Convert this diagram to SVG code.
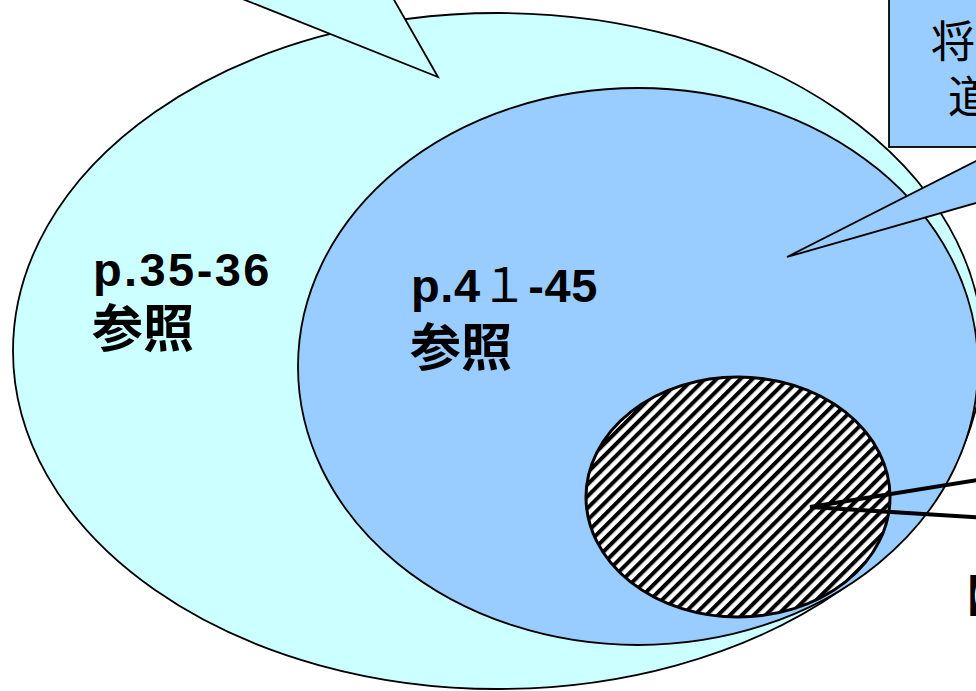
<svg xmlns="http://www.w3.org/2000/svg" width="976" height="691" viewBox="0 0 976 691">
<style>
.cy{fill:#CCFFFF;stroke:#000;stroke-width:1.8}
.bl{fill:#99CCFF;stroke:#000;stroke-width:1.8}
.lbl{font-family:"Liberation Sans","Noto Sans CJK JP",sans-serif;font-weight:bold;fill:#000}
.cjk{font-family:"Noto Sans CJK JP",sans-serif;fill:#000}
</style>
<defs>
<pattern id="hatch" patternUnits="userSpaceOnUse" width="8.4" height="8.4" patternTransform="rotate(45)">
<rect width="8.4" height="8.4" fill="#fff"/>
<rect width="4" height="8.4" fill="#000"/>
</pattern>
</defs>
<rect width="976" height="691" fill="#fff"/>
<g id="outer">
<ellipse class="cy" cx="498" cy="351" rx="485" ry="338"/>
</g>
<g id="callout-left">
<polygon class="cy" points="240,-2 438,77 393,-2"/>
</g>
<g id="middle">
<ellipse class="bl" cx="638" cy="366.5" rx="340" ry="278.5"/>
</g>
<g id="callout-right">
<rect class="bl" x="889" y="-5" width="100" height="152"/>
<polygon class="bl" points="990,154 787,257 990,199"/>
<text class="cjk" x="931" y="58" font-size="44">将</text>
<text class="cjk" x="948" y="113" font-size="44">道</text>
</g>
<g id="inner">
<ellipse cx="738" cy="497" rx="152" ry="120" fill="url(#hatch)" stroke="#000" stroke-width="3"/>
</g>
<g id="connectors">
<polyline points="990,478 810,507 990,518" fill="none" stroke="#000" stroke-width="4"/>
</g>
<g id="label-outer">
<text class="lbl" x="93" y="286" font-size="47" letter-spacing="2.4">p.35-36</text>
<text class="lbl" x="92" y="347" font-size="51">参照</text>
</g>
<g id="label-middle">
<text class="lbl" x="411" y="302" font-size="47" letter-spacing="0.6">p.4<tspan font-weight="normal" font-family="Noto Sans CJK JP">１</tspan>-45</text>
<text class="lbl" x="410" y="366" font-size="51">参照</text>
</g>
<g id="label-bracket">
<text class="cjk" x="941" y="612" font-size="44">【</text>
</g>
</svg>
